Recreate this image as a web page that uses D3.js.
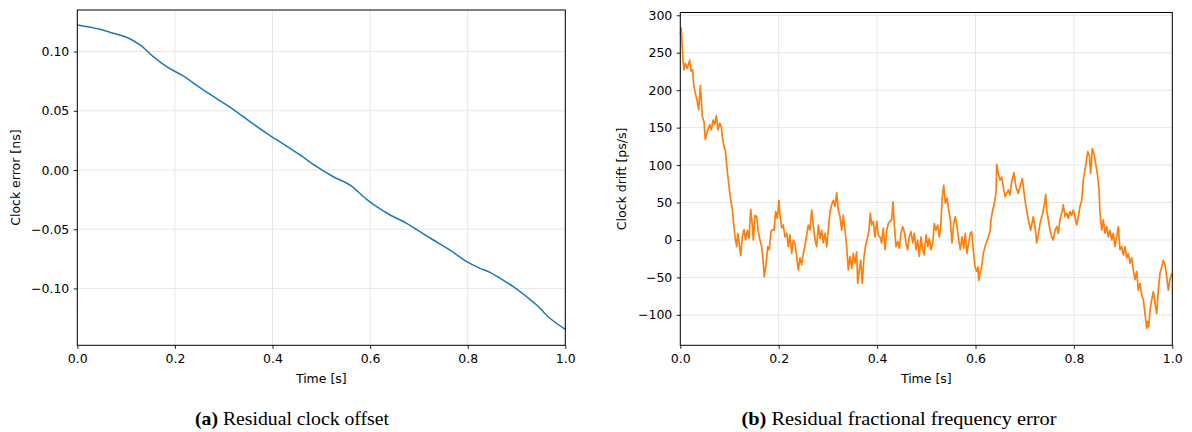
<!DOCTYPE html>
<html>
<head>
<meta charset="utf-8">
<script src="https://cdn.jsdelivr.net/npm/d3@7"></script>
<style>
  html, body { margin: 0; padding: 0; background: #fff; }
  svg { display: block; }
  .tick text { font-family: "DejaVu Sans", sans-serif; font-size: 12.5px; fill: #000; }
  .axis-label { font-family: "DejaVu Sans", sans-serif; font-size: 12.5px; fill: #000; }
  .caption { font-family: "Liberation Serif", "DejaVu Serif", serif; font-size: 19px; fill: #000; }
</style>
</head>
<body>
<svg id="fig" width="1192" height="432"></svg>
<script>
// Residual clock offset over one second (ns)
const offsetTime = [0, 0.0465, 0.0738, 0.101, 0.1285, 0.1557, 0.183, 0.217, 0.2514, 0.2856, 0.32, 0.3539, 0.388, 0.422, 0.4563, 0.4905, 0.5246, 0.559, 0.593, 0.6135, 0.641, 0.675, 0.702, 0.7295, 0.7637, 0.798, 0.8252, 0.8457, 0.8662, 0.8934, 0.9208, 0.9414, 0.9686, 1.0];
const offsetValue = [0.1225, 0.1188, 0.1154, 0.1121, 0.1056, 0.0957, 0.0872, 0.0794, 0.0695, 0.0602, 0.051, 0.0408, 0.031, 0.022, 0.0127, 0.0028, -0.0057, -0.0127, -0.0248, -0.031, -0.038, -0.045, -0.0521, -0.0591, -0.0676, -0.0774, -0.083, -0.0864, -0.0915, -0.0985, -0.107, -0.114, -0.1252, -0.1345];

// Residual fractional frequency error (ps/s)
const driftTime = [0, 0.0020, 0.0035, 0.0055, 0.0075, 0.0102, 0.0142, 0.0191, 0.0224, 0.0252, 0.0272, 0.0305, 0.0339, 0.0374, 0.0407, 0.0427, 0.0447, 0.0482, 0.0508, 0.0549, 0.0598, 0.0630, 0.0665, 0.0699, 0.0732, 0.0766, 0.0801, 0.0833, 0.0854, 0.0888, 0.0915, 0.0943, 0.0976, 0.1024, 0.1057, 0.1077, 0.1112, 0.1146, 0.1167, 0.1193, 0.1228, 0.1260, 0.1295, 0.1329, 0.1362, 0.1396, 0.1431, 0.1463, 0.1484, 0.1518, 0.1553, 0.1585, 0.1620, 0.1654, 0.1687, 0.1707, 0.1742, 0.1776, 0.1809, 0.1843, 0.1878, 0.1904, 0.1939, 0.1972, 0.2006, 0.2026, 0.2061, 0.2093, 0.2128, 0.2163, 0.2195, 0.2230, 0.2264, 0.2297, 0.2331, 0.2366, 0.2398, 0.2433, 0.2467, 0.2500, 0.2535, 0.2569, 0.2602, 0.2636, 0.2671, 0.2703, 0.2738, 0.2772, 0.2805, 0.2839, 0.2874, 0.2907, 0.2941, 0.2976, 0.3008, 0.3043, 0.3077, 0.3110, 0.3144, 0.3179, 0.3211, 0.3246, 0.3280, 0.3313, 0.3348, 0.3382, 0.3415, 0.3449, 0.3484, 0.3516, 0.3551, 0.3585, 0.3606, 0.3638, 0.3667, 0.3699, 0.3734, 0.3768, 0.3801, 0.3835, 0.3862, 0.3890, 0.3923, 0.3957, 0.3992, 0.4024, 0.4059, 0.4093, 0.4126, 0.4161, 0.4195, 0.4228, 0.4262, 0.4297, 0.4323, 0.4350, 0.4384, 0.4419, 0.4451, 0.4486, 0.4520, 0.4553, 0.4587, 0.4622, 0.4654, 0.4689, 0.4724, 0.4756, 0.4791, 0.4825, 0.4858, 0.4892, 0.4927, 0.4959, 0.4994, 0.5028, 0.5061, 0.5096, 0.5130, 0.5163, 0.5197, 0.5232, 0.5264, 0.5293, 0.5325, 0.5354, 0.5386, 0.5421, 0.5455, 0.5488, 0.5522, 0.5557, 0.5589, 0.5624, 0.5659, 0.5691, 0.5726, 0.5760, 0.5793, 0.5827, 0.5862, 0.5894, 0.5923, 0.5955, 0.5990, 0.6024, 0.6051, 0.6065, 0.6091, 0.6126, 0.6159, 0.6193, 0.6228, 0.6260, 0.6295, 0.6315, 0.6350, 0.6382, 0.6417, 0.6431, 0.6463, 0.6498, 0.6533, 0.6565, 0.6600, 0.6634, 0.6667, 0.6701, 0.6736, 0.6783, 0.6823, 0.6870, 0.6904, 0.6951, 0.6986, 0.7016, 0.7073, 0.7122, 0.7175, 0.7209, 0.7244, 0.7276, 0.7311, 0.7366, 0.7413, 0.7427, 0.7447, 0.7480, 0.7514, 0.7549, 0.7581, 0.7616, 0.7650, 0.7683, 0.7717, 0.7752, 0.7785, 0.7819, 0.7854, 0.7886, 0.7921, 0.7955, 0.7988, 0.8022, 0.8057, 0.8089, 0.8124, 0.8159, 0.8191, 0.8246, 0.8280, 0.8313, 0.8341, 0.8374, 0.8409, 0.8443, 0.8476, 0.8510, 0.8530, 0.8565, 0.8598, 0.8632, 0.8667, 0.8699, 0.8734, 0.8768, 0.8801, 0.8835, 0.8870, 0.8902, 0.8937, 0.8972, 0.9004, 0.9039, 0.9073, 0.9106, 0.9140, 0.9175, 0.9207, 0.9242, 0.9276, 0.9309, 0.9343, 0.9378, 0.9411, 0.9445, 0.9480, 0.9500, 0.9520, 0.9547, 0.9581, 0.9614, 0.9648, 0.9683, 0.9715, 0.9750, 0.9785, 0.9817, 0.9852, 0.9886, 0.9919, 0.9953, 0.9988, 1.0];
const driftValue = [275, 283, 262, 240, 227, 236, 229, 240, 225, 227, 207, 196, 187, 174, 206, 187, 165, 158, 134, 145, 154, 147, 160, 154, 166, 147, 156, 151, 138, 125, 120, 100, 80, 53, 42, 27, 4, -9, 9, -2, -21, 4, 14, 0, 13, 2, 41, 20, 0, 33, 31, 11, 0, -9, -31, -49, -33, -9, -13, 11, 14, 13, 38, 29, 53, 33, 16, 20, 4, 9, -9, 7, -18, 0, -5, -22, -40, -24, -33, -18, -7, 7, 20, 13, 40, 20, 0, -9, 20, 2, 13, -4, 9, -9, 13, 38, 47, 53, 45, 63, 40, 31, 13, 33, 13, -9, -40, -22, -38, -18, -31, -16, -58, -40, -27, -58, -22, -7, 2, 13, 36, 20, 25, 4, 25, 7, 4, -4, 16, -13, 13, 22, 25, 27, 51, 20, -9, -2, -11, 9, 18, 11, -4, -13, 4, 11, -4, 9, -13, 0, -22, 4, -13, -20, 7, -9, 2, -13, -4, 22, 13, 20, 4, 18, 58, 73, 49, 56, 40, 27, -4, 22, 31, 18, 0, -13, 4, -11, 9, -18, -4, 9, 11, -13, -36, -42, -36, -54, -44, -36, -18, -9, -2, 4, 11, 27, 40, 49, 63, 101, 89, 80, 84, 71, 58, 62, 67, 60, 78, 90, 71, 62, 71, 82, 64, 49, 27, 13, 31, 18, -4, 7, 22, 36, 53, 61, 40, 27, 13, 4, 0, 13, 18, 9, 27, 36, 47, 31, 36, 29, 38, 33, 40, 31, 20, 31, 45, 53, 80, 102, 118, 113, 89, 122, 115, 102, 89, 67, 36, 13, 27, 9, 18, 4, 13, 0, 9, -9, 4, 18, -13, -9, -20, -9, -24, -18, -31, -24, -40, -53, -42, -67, -58, -73, -80, -98, -118, -109, -116, -94, -80, -69, -84, -98, -67, -44, -36, -27, -33, -49, -67, -53, -45, -45];

const timeTicks = [0, 0.2, 0.4, 0.6, 0.8, 1.0];
const offsetTicks = [-0.10, -0.05, 0.00, 0.05, 0.10];
const driftTicks = [-100, -50, 0, 50, 100, 150, 200, 250, 300];

const svg = d3.select("#fig");

function panel(cfg) {
  const x = d3.scaleLinear().domain([0, 1]).range([cfg.left, cfg.right]);
  const y = d3.scaleLinear().domain(cfg.yDomain).range([cfg.bottom, cfg.top]);
  const g = svg.append("g");

  // grid
  g.append("g").selectAll("line").data(timeTicks).join("line")
    .attr("x1", d => x(d)).attr("x2", d => x(d))
    .attr("y1", cfg.top).attr("y2", cfg.bottom)
    .attr("stroke", "#e6e6e6").attr("stroke-width", 1);
  g.append("g").selectAll("line").data(cfg.yTicks).join("line")
    .attr("x1", cfg.left).attr("x2", cfg.right)
    .attr("y1", d => y(d)).attr("y2", d => y(d))
    .attr("stroke", "#e6e6e6").attr("stroke-width", 1);

  // data line
  const pts = cfg.xs.map((t, i) => [t, cfg.ys[i]]);
  g.append("path").datum(pts)
    .attr("fill", "none").attr("stroke", cfg.color)
    .attr("stroke-width", cfg.width).attr("stroke-linejoin", "round")
    .attr("d", d3.line().x(d => x(d[0])).y(d => y(d[1])).curve(cfg.curve));

  // spines
  g.append("rect").attr("x", cfg.left).attr("y", cfg.top)
    .attr("width", cfg.right - cfg.left).attr("height", cfg.bottom - cfg.top)
    .attr("fill", "none").attr("stroke", "#000").attr("stroke-width", 1);

  // axes
  const xa = g.append("g").attr("transform", `translate(0,${cfg.bottom})`)
    .call(d3.axisBottom(x).tickValues(timeTicks).tickFormat(d3.format(".1f")).tickSize(3.5).tickPadding(5));
  const ya = g.append("g").attr("transform", `translate(${cfg.left},0)`)
    .call(d3.axisLeft(y).tickValues(cfg.yTicks).tickFormat(cfg.fmt).tickSize(3.5).tickPadding(4.5));
  [xa, ya].forEach(a => {
    a.select(".domain").remove();
    a.selectAll(".tick line").attr("stroke", "#000").attr("stroke-width", 0.9);
    a.attr("font-family", null).attr("font-size", null);
  });

  // axis labels
  g.append("text").attr("class", "axis-label")
    .attr("x", (cfg.left + cfg.right) / 2).attr("y", 382.5)
    .attr("text-anchor", "middle").text("Time [s]");
  g.append("text").attr("class", "axis-label")
    .attr("transform", `translate(${cfg.ylabelX},${(cfg.top + cfg.bottom) / 2}) rotate(-90)`)
    .attr("text-anchor", "middle").text(cfg.ylabel);

  // caption
  const cap = g.append("text").attr("class", "caption")
    .attr("x", cfg.capX).attr("y", 425)
    .attr("textLength", cfg.capW).attr("lengthAdjust", "spacingAndGlyphs");
  cap.append("tspan").attr("font-weight", "bold").text(cfg.capTag);
  cap.append("tspan").text(" " + cfg.capText);
}

panel({
  left: 77.3, right: 565.3, top: 10, bottom: 345.3,
  yDomain: [-0.148, 0.1351], yTicks: offsetTicks, fmt: d3.format(".2f"),
  xs: offsetTime, ys: offsetValue, color: "#1f77b4", width: 1.5, curve: d3.curveMonotoneX,
  ylabel: "Clock error [ns]", ylabelX: 20,
  capX: 195, capW: 194, capTag: "(a)", capText: "Residual clock offset"
});

panel({
  left: 680.3, right: 1172.3, top: 12.5, bottom: 345.3,
  yDomain: [-140.6, 303.7], yTicks: driftTicks, fmt: d3.format("d"),
  xs: driftTime, ys: driftValue, color: "#ff7f0e", width: 1.7, curve: d3.curveLinear,
  ylabel: "Clock drift [ps/s]", ylabelX: 626,
  capX: 741.5, capW: 315, capTag: "(b)", capText: "Residual fractional frequency error"
});
</script>
</body>
</html>
